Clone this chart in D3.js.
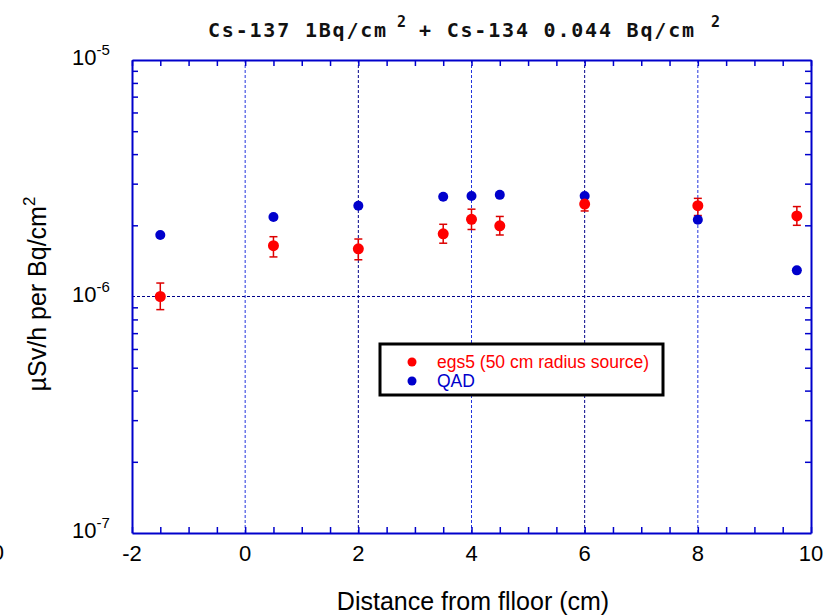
<!DOCTYPE html>
<html>
<head>
<meta charset="utf-8">
<script src="https://cdn.jsdelivr.net/npm/d3@7"></script>
<style>
  body { margin: 0; background: #fff; }
  svg { display: block; }
</style>
</head>
<body>
<svg id="chart" width="829" height="615"></svg>
<script>
// distances (cm)
var egsX = [-1.5, 0.5, 2, 3.5, 4, 4.5, 6, 8, 9.75];
var egsY = [1.0e-6, 1.64e-6, 1.59e-6, 1.84e-6, 2.12e-6, 1.99e-6, 2.46e-6, 2.42e-6, 2.19e-6];
var egsLo = [0.88e-6, 1.47e-6, 1.43e-6, 1.68e-6, 1.92e-6, 1.82e-6, 2.30e-6, 2.20e-6, 2.00e-6];
var egsHi = [1.14e-6, 1.79e-6, 1.75e-6, 2.02e-6, 2.34e-6, 2.18e-6, 2.64e-6, 2.60e-6, 2.40e-6];
var qadX = [-1.5, 0.5, 2, 3.5, 4, 4.5, 6, 8, 9.75];
var qadY = [1.82e-6, 2.17e-6, 2.42e-6, 2.64e-6, 2.66e-6, 2.69e-6, 2.66e-6, 2.11e-6, 1.29e-6];
var xTicks = [-2, 0, 2, 4, 6, 8, 10];
var xGrid = [0, 2, 4, 6, 8];
var yExp = [-5, -6, -7];

var svg = d3.select("#chart");
var pL = 132, pR = 811, pT = 60, pB = 533;
var blue = "#0000cc";

var x = d3.scaleLinear().domain([-2, 10]).range([pL, pR]);
var y = d3.scaleLog().domain([1e-7, 1e-5]).range([pB, pT]);

// grid
var grid = svg.append("g");
grid.selectAll("line.v").data(xGrid).enter().append("line")
    .attr("x1", function (d) { return x(d); }).attr("x2", function (d) { return x(d); })
    .attr("y1", pT).attr("y2", pB)
    .attr("stroke", function (d, i) { return i % 2 ? "#000088" : "#2233dd"; })
    .attr("stroke-width", 1).attr("stroke-dasharray", "3,2");
grid.append("line")
    .attr("x1", pL).attr("x2", pR).attr("y1", y(1e-6)).attr("y2", y(1e-6))
    .attr("stroke", "#000088").attr("stroke-dasharray", "3,2");

// axes frame
var minorX = d3.range(-2, 10.01, 0.5);
var minorY = [];
[-7, -6].forEach(function (e) {
    for (var k = 2; k <= 9; k++) minorY.push(k * Math.pow(10, e));
});

svg.append("g").attr("transform", "translate(0," + pB + ")")
    .call(d3.axisBottom(x).tickValues(minorX).tickSize(-6).tickSizeOuter(0).tickFormat(""));
svg.append("g").attr("transform", "translate(0," + pT + ")")
    .call(d3.axisTop(x).tickValues(minorX).tickSize(-6).tickSizeOuter(0).tickFormat(""));
svg.append("g").attr("transform", "translate(" + pL + ",0)")
    .call(d3.axisLeft(y).tickValues(minorY).tickSize(-6).tickSizeOuter(0).tickFormat(""));
svg.append("g").attr("transform", "translate(" + pR + ",0)")
    .call(d3.axisRight(y).tickValues(minorY).tickSize(-6).tickSizeOuter(0).tickFormat(""));
svg.selectAll(".domain").attr("stroke", blue).attr("stroke-width", 2);
svg.selectAll(".tick line").attr("stroke", blue).attr("stroke-width", 1.5);

// x tick labels
svg.append("g").selectAll("text").data(xTicks).enter().append("text")
    .attr("x", function (d) { return x(d); }).attr("y", 561)
    .attr("text-anchor", "middle")
    .attr("font-family", "Liberation Sans, Arial, sans-serif").attr("font-size", 22)
    .text(function (d) { return d; });

// y tick labels 10^n
var yl = svg.append("g").selectAll("text").data(yExp).enter().append("text")
    .attr("x", 72).attr("y", function (d) { return y(Math.pow(10, d)) + 5; })
    .attr("font-family", "Liberation Sans, Arial, sans-serif").attr("font-size", 22);
yl.append("tspan").text("10");
yl.append("tspan").attr("dy", -10).attr("font-size", 15).text(function (d) { return d; });

// stray clipped label at far left
svg.append("text").attr("x", 4).attr("y", 560).attr("text-anchor", "end")
    .attr("font-family", "Liberation Sans, Arial, sans-serif").attr("font-size", 22).text("0");

// axis titles
svg.append("text").attr("x", 473).attr("y", 610).attr("text-anchor", "middle")
    .attr("font-family", "Liberation Sans, Arial, sans-serif").attr("font-size", 25)
    .text("Distance from flloor (cm)");
var yt = svg.append("text").attr("transform", "translate(46,294) rotate(-90)")
    .attr("text-anchor", "middle")
    .attr("font-family", "Liberation Sans, Arial, sans-serif").attr("font-size", 25);
yt.append("tspan").text("\u00b5Sv/h per Bq/cm");
yt.append("tspan").attr("dy", -11).attr("font-size", 17).text("2");

// title
var tt = svg.append("text").attr("y", 37)
    .attr("font-family", "DejaVu Sans Mono, monospace").attr("font-size", 20)
    .attr("letter-spacing", 1.8)
    .attr("font-weight", "bold").attr("fill", "#111");
tt.append("tspan").attr("x", 208).text("Cs-137 1Bq/cm");
tt.append("tspan").attr("x", 397).attr("dy", -10).attr("font-size", 15).text("2");
tt.append("tspan").attr("x", 419).attr("dy", 10).text("+ Cs-134 0.044 Bq/cm");
tt.append("tspan").attr("x", 711).attr("dy", -10).attr("font-size", 15).text("2");

// error bars
var eb = svg.append("g").attr("stroke", "#dd0000").attr("stroke-width", 1.5);
egsX.forEach(function (d, i) {
    eb.append("line").attr("x1", x(d)).attr("x2", x(d))
        .attr("y1", y(egsLo[i])).attr("y2", y(egsHi[i]));
    [egsLo[i], egsHi[i]].forEach(function (v) {
        eb.append("line").attr("x1", x(d) - 4).attr("x2", x(d) + 4)
            .attr("y1", y(v)).attr("y2", y(v));
    });
});

// points
svg.append("g").selectAll("circle").data(qadX).enter().append("circle")
    .attr("cx", function (d) { return x(d); })
    .attr("cy", function (d, i) { return y(qadY[i]); })
    .attr("r", 5).attr("fill", blue);
svg.append("g").selectAll("circle").data(egsX).enter().append("circle")
    .attr("cx", function (d) { return x(d); })
    .attr("cy", function (d, i) { return y(egsY[i]); })
    .attr("r", 5.5).attr("fill", "#ff0000");

// legend
var lg = svg.append("g");
lg.append("rect").attr("x", 380).attr("y", 344).attr("width", 283).attr("height", 51)
    .attr("fill", "#fff").attr("stroke", "#000").attr("stroke-width", 3);
var legItems = [{ name: "egs5 (50 cm radius source)", color: "#ff0000" }, { name: "QAD", color: blue }];
legItems.forEach(function (d, i) {
    lg.append("circle").attr("cx", 412).attr("cy", 362 + i * 19).attr("r", 4.5).attr("fill", d.color);
    lg.append("text").attr("x", 437).attr("y", 368 + i * 19)
        .attr("font-family", "Liberation Sans, Arial, sans-serif").attr("font-size", 17.5)
        .attr("fill", d.color).text(d.name);
});
</script>
</body>
</html>
